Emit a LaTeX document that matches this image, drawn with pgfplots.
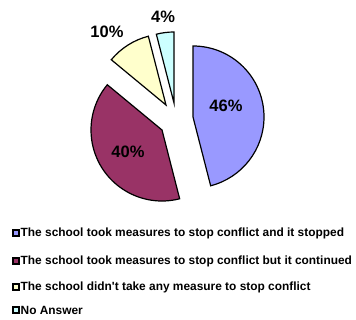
\documentclass[border=0pt]{standalone}
\usepackage{fontspec}
\setmainfont{Liberation Sans}
\usepackage{pgfplots}
\pgfplotsset{compat=1.18}
\definecolor{sA}{HTML}{9999FF}
\definecolor{sB}{HTML}{993366}
\definecolor{sC}{HTML}{FFFFCC}
\definecolor{sD}{HTML}{CCFFFF}
% shares (percent): 46, 40, 10, 4 ; start angle 90, clockwise
\def\vA{46}\def\vB{40}\def\vC{10}\def\vD{4}
\begin{document}
\begin{tikzpicture}
\begin{axis}[width=356pt,height=319pt,scale only axis,
  xmin=0,xmax=356,ymin=0,ymax=319,enlargelimits=false,hide axis,clip=false]
\tikzset{wedge/.style={draw=black,line width=1.2pt,line join=miter}}
% slice 1 (46%)
\filldraw[wedge,fill=sA] (axis cs:193,202) -- ++(90:71pt)
  arc[start angle=90, end angle={90-\vA*3.6}, radius=71pt] -- cycle;
% slice 2 (40%)
\filldraw[wedge,fill=sB] (axis cs:162,189) -- ++({90-\vA*3.6}:71pt)
  arc[start angle={90-\vA*3.6}, end angle={90-(\vA+\vB)*3.6}, radius=71pt] -- cycle;
% slice 3 (10%)
\filldraw[wedge,fill=sC] (axis cs:166,214) -- ++({90-(\vA+\vB)*3.6}:71pt)
  arc[start angle={90-(\vA+\vB)*3.6}, end angle={90-(\vA+\vB+\vC)*3.6}, radius=71pt] -- cycle;
% slice 4 (4%)
\filldraw[wedge,fill=sD] (axis cs:174,216) -- ++({90-(\vA+\vB+\vC)*3.6}:71pt)
  arc[start angle={90-(\vA+\vB+\vC)*3.6}, end angle={90-(\vA+\vB+\vC+\vD)*3.6}, radius=71pt] -- cycle;
\node[font=\bfseries\fontsize{16.5}{18}\selectfont] at (axis cs:226,213) {46\%};
\node[font=\bfseries\fontsize{16.5}{18}\selectfont] at (axis cs:128,167) {40\%};
\node[font=\bfseries\fontsize{16.5}{18}\selectfont] at (axis cs:107,287) {10\%};
\node[font=\bfseries\fontsize{16.5}{18}\selectfont] at (axis cs:163,302) {4\%};
% legend
\tikzset{lsq/.style={draw=black,line width=1.6pt,minimum size=6pt,inner sep=0pt},
  ltx/.style={anchor=west,inner sep=0pt,font=\bfseries\fontsize{11.9}{13}\selectfont}}
\node[lsq,fill=sA] at (axis cs:16,86) {};
\node[ltx] at (axis cs:20.5,86) {The school took measures to stop conflict and it stopped};
\node[lsq,fill=sB] at (axis cs:16,58) {};
\node[ltx] at (axis cs:20.5,58) {The school took measures to stop conflict but it continued};
\node[lsq,fill=sC] at (axis cs:16,32) {};
\node[ltx] at (axis cs:20.5,32) {The school didn\textquotesingle t take any measure to stop conflict};
\node[lsq,fill=sD] at (axis cs:16,9) {};
\node[ltx] at (axis cs:20.5,9) {No Answer};
\end{axis}
\pgfresetboundingbox
\path (current axis.south west) rectangle (current axis.north east);
\end{tikzpicture}
\end{document}
